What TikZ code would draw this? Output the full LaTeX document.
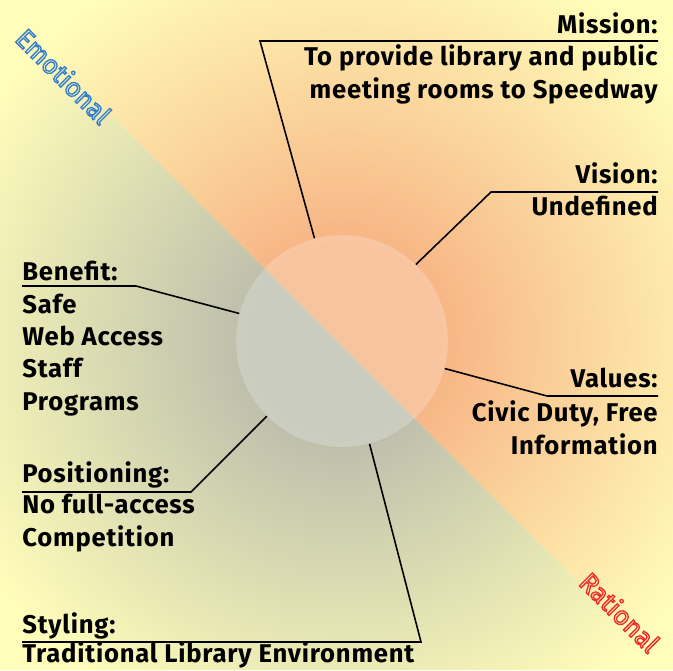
\documentclass[tikz,border=0pt]{standalone}
\usepackage{fontspec}
\setmainfont{Fira Sans}
\newfontfamily\labfont[LetterSpace=3]{Fira Sans}
\usetikzlibrary{positioning}

\definecolor{bgc}{RGB}{255,253,185}
\definecolor{orgc}{RGB}{247,180,133}
\definecolor{gryc}{RGB}{188,190,172}
\definecolor{emoc}{RGB}{55,125,205}
\definecolor{ratc}{RGB}{235,45,45}

% radial glows, radius in bp (1 unit = 0.567bp)
\pgfdeclareradialshading{glowor}{\pgfpoint{0bp}{0bp}}{color(0bp)=(orgc); color(54bp)=(orgc); color(238bp)=(bgc); color(290bp)=(bgc)}
\pgfdeclareradialshading{glowgr}{\pgfpoint{0bp}{0bp}}{color(0bp)=(gryc); color(54bp)=(gryc); color(238bp)=(bgc); color(290bp)=(bgc)}

% hollow letters
\newcommand{\hollow}[1]{\special{pdf:literal direct 1 Tr 0.75 w}#1\special{pdf:literal direct 0 Tr 0.4 w}}

\begin{document}
\begin{tikzpicture}[x=0.02cm, y=-0.02cm,
	ttl/.style={font=\labfont\fontsize{14.6}{18.4}\selectfont\bfseries, inner sep=0pt},
	body/.style={ttl, align=right},
	bodyl/.style={ttl, align=left},
	leader/.style={line width=0.9pt, black},
	hub/.style={circle, minimum size=4.24cm, inner sep=0pt, fill=white, fill opacity=0.22},
	side/.style={font=\fontsize{15}{18}\selectfont, rotate=-45, inner sep=0pt}]
	\useasboundingbox (0,0) rectangle (673,670);
	% background
	\fill[bgc] (0,0) rectangle (673,670);
	\coordinate (mid) at (342,341);
	\coordinate (d1) at (0,4);
	\coordinate (d2) at (666,670);
	\begin{scope}
		\clip (d1) -- (d2) -- (673,670) -- (673,0) -- (0,0) -- cycle;
		\node[inner sep=0pt] at (mid) {\pgfuseshading{glowor}};
	\end{scope}
	\begin{scope}
		\clip (d1) -- (d2) -- (0,670) -- cycle;
		\node[inner sep=0pt] at (mid) {\pgfuseshading{glowgr}};
	\end{scope}
	% centre
	\node[hub] (hub) at (mid) {};
	% Mission
	\coordinate (mis-k) at (260,41);
	\node[ttl, anchor=base east] (mis-ttl) at (658,33) {Mission:};
	\node[body, anchor=base east] (mis-txt) at (658,98) {To provide library and public\\meeting rooms to Speedway};
	\draw[leader] (hub.105) -- (mis-k) -- (mis-k -| mis-ttl.east);
	% Vision
	\coordinate (vis-k) at (491,192);
	\node[ttl, anchor=base east] (vis-ttl) at (658,183) {Vision:};
	\node[body, anchor=base east] (vis-txt) at (658,215) {Undefined};
	\draw[leader] (hub.46) -- (vis-k) -- (vis-k -| vis-ttl.east);
	% Values
	\coordinate (val-k) at (547,396);
	\node[ttl, anchor=base east] (val-ttl) at (658,387) {Values:};
	\node[body, anchor=base east] (val-txt) at (658,454) {Civic Duty, Free\\Information};
	\draw[leader] (hub.-15) -- (val-k) -- (val-k -| val-ttl.east);
	% Benefit
	\coordinate (ben-k) at (136,286);
	\node[ttl, anchor=base west] (ben-ttl) at (22,280) {Benefit:};
	\node[bodyl, anchor=base west] (ben-txt) at (22,410) {Safe\\Web Access\\Staff\\Programs};
	\draw[leader] (hub.165) -- (ben-k) -- (ben-k -| ben-ttl.west);
	% Positioning
	\coordinate (pos-k) at (191,492);
	\node[ttl, anchor=base west] (pos-ttl) at (22,482) {Positioning:};
	\node[bodyl, anchor=base west] (pos-txt) at (22,546) {No full-access\\Competition};
	\draw[leader] (hub.-135) -- (pos-k) -- (pos-k -| pos-ttl.west);
	% Styling
	\coordinate (sty-k) at (421,642);
	\node[ttl, anchor=base west] (sty-ttl) at (22,633) {Styling:};
	\node[bodyl, anchor=base west] (sty-txt) at (22,662) {Traditional Library Environment};
	\draw[leader] (hub.-75) -- (sty-k) -- (sty-k -| sty-ttl.west);
	% sides
	\node[side, text=emoc] (emo) at (64,76) {\hollow{Emotional}};
	\node[side, text=ratc] (rat) at (620,612) {\hollow{Rational}};
\end{tikzpicture}
\end{document}
